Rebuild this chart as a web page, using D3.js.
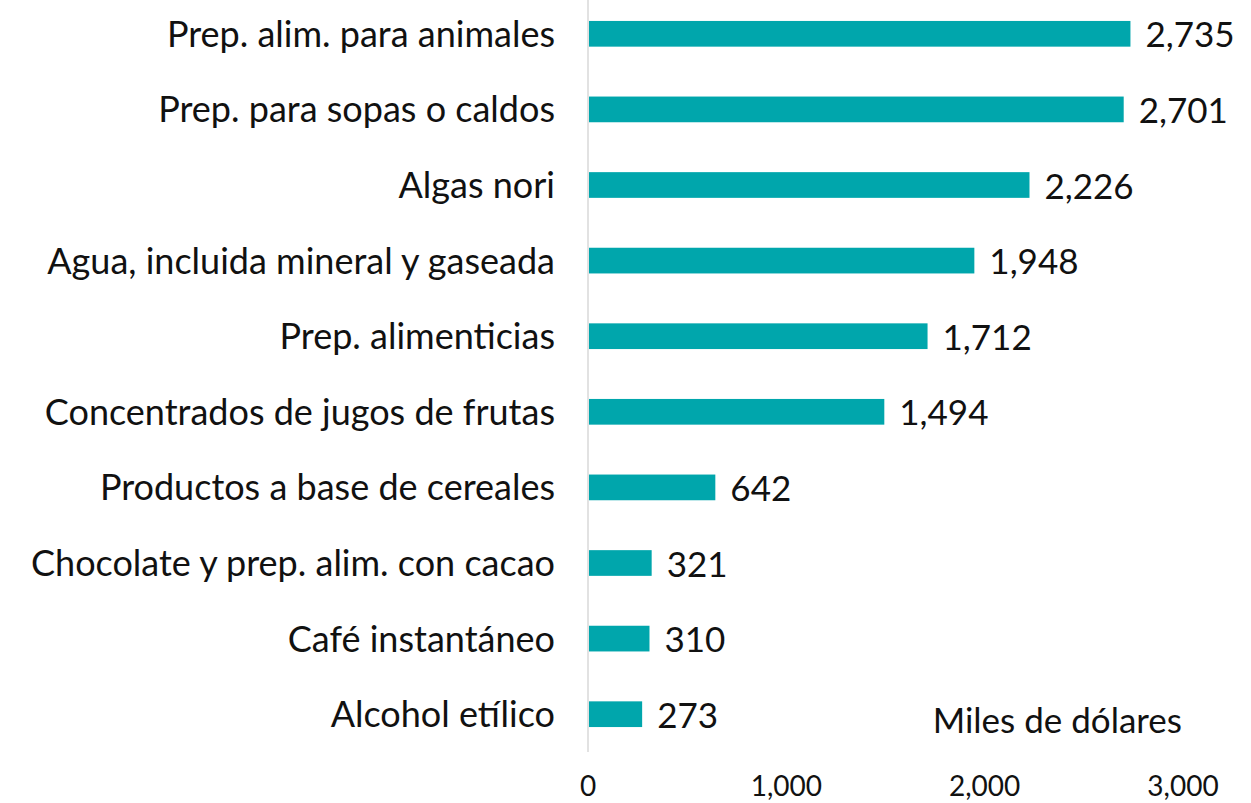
<!DOCTYPE html>
<html>
<head>
<meta charset="utf-8">
<script src="https://cdn.jsdelivr.net/npm/d3@7"></script>
<style>
  body { margin: 0; background: #fff; }
  text { font-family: Lato, "Open Sans", sans-serif; font-weight: 400; fill: #111; }
</style>
</head>
<body>
<svg id="chart"></svg>
<script>
const categories = [
  "Prep. alim. para animales",
  "Prep. para sopas o caldos",
  "Algas nori",
  "Agua, incluida mineral y gaseada",
  "Prep. alimenticias",
  "Concentrados de jugos de frutas",
  "Productos a base de cereales",
  "Chocolate y prep. alim. con cacao",
  "Café instantáneo",
  "Alcohol etílico"
];
const values = [2735, 2701, 2226, 1948, 1712, 1494, 642, 321, 310, 273];
const ticks = [0, 1000, 2000, 3000];

const W = 1251, H = 803;
const svg = d3.select("#chart").attr("width", W).attr("height", H);

const x = d3.scaleLinear().domain([0, 3000]).range([588, 1183]);
const y = d3.scaleBand().domain(categories).range([-4, 752])
  .paddingInner(0.66).paddingOuter(0.33);

// eje vertical
svg.append("line")
  .attr("x1", x(0)).attr("x2", x(0))
  .attr("y1", 0).attr("y2", 752)
  .attr("stroke", "#d9d9d9").attr("stroke-width", 1.5);

svg.selectAll("rect.bar")
  .data(values)
  .enter()
  .append("rect")
  .attr("class", "bar")
  .attr("x", x(0) + 1)
  .attr("y", (d, i) => y(categories[i]))
  .attr("width", (d) => x(d) - x(0) - 1)
  .attr("height", y.bandwidth())
  .attr("fill", "#00A6AC");

svg.selectAll("text.val")
  .data(values)
  .enter()
  .append("text")
  .attr("class", "val")
  .attr("x", (d) => x(d) + 15)
  .attr("y", (d, i) => y(categories[i]) + y.bandwidth() / 2 + 1)
  .attr("dy", "0.36em")
  .attr("font-size", "35px")
  .text((d) => d3.format(",")(d));

svg.selectAll("text.cat")
  .data(categories)
  .enter()
  .append("text")
  .attr("class", "cat")
  .attr("x", 555)
  .attr("y", (d) => y(d) + y.bandwidth() / 2)
  .attr("dy", "0.36em")
  .attr("text-anchor", "end")
  .attr("font-size", "36px")
  .text((d) => d);

// etiquetas del eje x
svg.selectAll("text.tick")
  .data(ticks)
  .enter()
  .append("text")
  .attr("class", "tick")
  .attr("x", (d) => x(d))
  .attr("y", 786)
  .attr("dy", "0.36em")
  .attr("text-anchor", "middle")
  .attr("font-size", "28px")
  .text((d) => d3.format(",")(d));

svg.append("text")
  .attr("x", 1182)
  .attr("y", 720)
  .attr("dy", "0.36em")
  .attr("text-anchor", "end")
  .attr("font-size", "35px")
  .text("Miles de dólares");
</script>
</body>
</html>
